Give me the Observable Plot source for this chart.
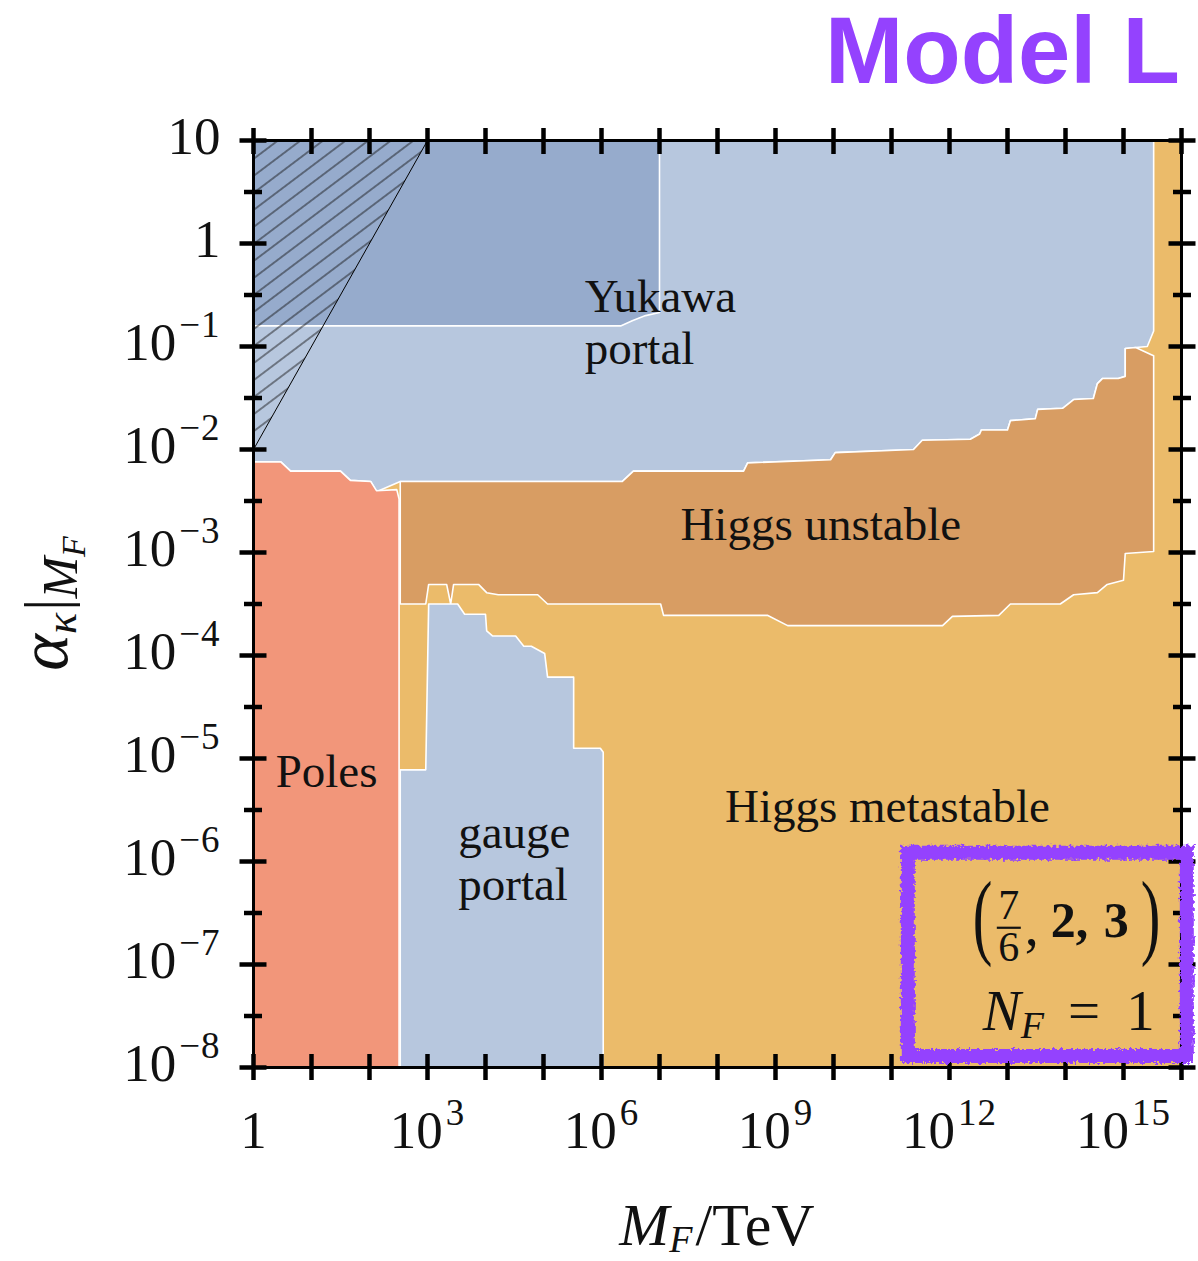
<!DOCTYPE html>
<html>
<head>
<meta charset="utf-8">
<script src="https://cdn.jsdelivr.net/npm/d3@7"></script>
<script src="https://cdn.jsdelivr.net/npm/@observablehq/plot@0.6"></script>
<style>
  html, body { margin: 0; padding: 0; background: #fff; }
  #chart svg { display: block; }
</style>
</head>
<body>
<div id="chart"></div>
<script>
// Region outlines as [log10(M_F / TeV), log10(alpha_kappa at M_F)] vertices.
const yukawaStrong = [[0,1],[7.0,1],[7.0,-0.67],[6.76,-0.70],[6.53,-0.75],[6.33,-0.80],[0,-0.80]];
const yukawaPortal = [[0,1],[15.52,1],[15.52,-0.85],[15.41,-1.0],[15.21,-1.01],[15.03,-1.02],[15.03,-1.29],
  [14.91,-1.31],[14.64,-1.31],[14.55,-1.36],[14.48,-1.505],[14.14,-1.515],[13.95,-1.60],[13.52,-1.61],
  [13.48,-1.70],[13.05,-1.72],[13.0,-1.81],[12.55,-1.81],[12.52,-1.85],[12.36,-1.90],[11.53,-1.91],
  [11.38,-2.0],[10.03,-2.03],[9.95,-2.10],[8.52,-2.13],[8.45,-2.21],[6.55,-2.21],[6.36,-2.31],
  [2.53,-2.31],[2.12,-2.41],[2.02,-2.31],[1.67,-2.30],[1.5,-2.21],[0.64,-2.21],[0.47,-2.12],[0,-2.12]];
const poles = [[0,-8],[0,-2.12],[0.47,-2.12],[0.64,-2.21],[1.5,-2.21],[1.67,-2.30],[2.02,-2.31],
  [2.12,-2.40],[2.47,-2.39],[2.51,-2.48],[2.51,-8]];
const unstable = [[2.53,-2.31],[6.36,-2.31],[6.55,-2.21],[8.45,-2.21],[8.52,-2.13],[9.95,-2.10],[10.03,-2.03],
  [11.38,-2.0],[11.53,-1.91],[12.36,-1.90],[12.52,-1.85],[12.55,-1.81],[13.0,-1.81],[13.05,-1.72],
  [13.48,-1.70],[13.52,-1.61],[13.95,-1.60],[14.14,-1.515],[14.48,-1.505],[14.55,-1.36],[14.64,-1.31],
  [14.91,-1.31],[15.03,-1.29],[15.03,-1.02],[15.21,-1.01],[15.48,-1.08],[15.52,-1.09],[15.52,-2.99],
  [15.03,-3.01],[15.0,-3.27],[14.72,-3.31],[14.55,-3.39],[14.14,-3.41],[13.91,-3.50],[13.05,-3.50],
  [12.85,-3.61],[12.05,-3.62],[11.88,-3.71],[9.21,-3.71],[8.86,-3.61],[7.07,-3.61],[7.02,-3.50],
  [5.07,-3.50],[4.90,-3.41],[4.22,-3.41],[4.02,-3.39],[3.88,-3.31],[3.45,-3.31],[3.40,-3.50],
  [3.33,-3.31],[3.02,-3.31],[2.97,-3.50],[2.53,-3.50]];
const gaugePortal = [[2.53,-8],[2.53,-5.11],[2.97,-5.11],[3.02,-3.50],[3.52,-3.50],[3.64,-3.60],[4.0,-3.60],
  [4.02,-3.76],[4.12,-3.81],[4.52,-3.81],[4.66,-3.91],[4.79,-3.91],[5.02,-3.98],[5.07,-4.21],[5.52,-4.21],
  [5.52,-4.90],[5.98,-4.90],[6.03,-4.94],[6.03,-8]];
const excluded = [[0,1],[3,1],[0,-2]];

const regionLabels = [
  {text: "Yukawa\nportal", lx: 5.71, ly: -0.757, anchor: "start"},
  {text: "gauge\nportal", lx: 3.53, ly: -5.961, anchor: "start"},
  {text: "Higgs unstable", lx: 9.78, ly: -2.718, anchor: "middle"},
  {text: "Higgs metastable", lx: 10.93, ly: -5.456, anchor: "middle"},
  {text: "Poles", lx: 1.26, ly: -5.117, anchor: "middle"}
];

// Axis ticks (exponents)
const xTickExp = d3.range(0, 17);
const xLabelExp = [0, 3, 6, 9, 12, 15];
const yMajorExp = d3.range(-8, 2);
const yMinorExp = d3.range(-7.5, 1, 1);

// Highlight box around the model tuple (exponents of its corners)
const tupleBox = [{x1: 11.29, x2: 16.10, y1: -7.893, y2: -5.92}];

const COLORS = {
  metastable: "#EBBB6A",
  unstable: "#D89D63",
  poles: "#F2967A",
  portal: "#B7C7DE",
  portalStrong: "#96ABCC",
  accent: "#9442FE"
};

const X = d => 10 ** d[0];
const Y = d => 10 ** d[1];
const region = (pts, fill) => Plot.line([...pts, pts[0]], {
  x: X, y: Y, fill, stroke: "white", strokeWidth: 1.6, strokeLinejoin: "round"
});
const pow10 = e => 10 ** e;
const expFormat = v => {
  const e = Math.round(Math.log10(v));
  return e === 0 ? "1" : e === 1 ? "10" : "10^" + e;
};
const TICK_W = 4.5;

const plot = Plot.plot({
  width: 1198,
  height: 1261,
  marginTop: 140,
  marginLeft: 253,
  marginRight: 17,
  marginBottom: 194,
  x: {type: "log", domain: [1, 1e16]},
  y: {type: "log", domain: [1e-8, 10]},
  style: {fontFamily: "'Liberation Serif', 'Times New Roman', serif", background: "white", overflow: "visible"},
  marks: [
    Plot.frame({fill: COLORS.metastable, stroke: "none"}),
    region(yukawaPortal, COLORS.portal),
    region(yukawaStrong, COLORS.portalStrong),
    region(poles, COLORS.poles),
    region(unstable, COLORS.unstable),
    region(gaugePortal, COLORS.portal),
    Plot.line([...excluded, excluded[0]], {x: X, y: Y, fill: "url(#hatch)", stroke: "black", strokeWidth: 1}),
    Plot.text(regionLabels.filter(d => d.anchor === "start"), {
      x: d => 10 ** d.lx, y: d => 10 ** d.ly, text: "text", textAnchor: "start",
      fontSize: 47, lineHeight: 1.106, fill: "#111"
    }),
    Plot.text(regionLabels.filter(d => d.anchor === "middle"), {
      x: d => 10 ** d.lx, y: d => 10 ** d.ly, text: "text", textAnchor: "middle",
      fontSize: 47, lineHeight: 1.106, fill: "#111"
    }),
    Plot.frame({stroke: "black", strokeWidth: 3}),
    Plot.axisX(xTickExp.map(pow10), {anchor: "bottom", tickSize: 26, dy: -13, fill: "none", strokeWidth: TICK_W, label: null}),
    Plot.axisX(xTickExp.map(pow10), {anchor: "top", tickSize: 26, dy: 13, fill: "none", strokeWidth: TICK_W, label: null}),
    Plot.axisY(yMajorExp.map(pow10), {anchor: "left", tickSize: 27, dx: 13.5, fill: "none", strokeWidth: TICK_W, label: null}),
    Plot.axisY(yMinorExp.map(pow10), {anchor: "left", tickSize: 18, dx: 9, fill: "none", strokeWidth: TICK_W, label: null}),
    Plot.axisY(yMajorExp.map(pow10), {anchor: "right", tickSize: 27, dx: -13.5, fill: "none", strokeWidth: TICK_W, label: null}),
    Plot.axisY(yMinorExp.map(pow10), {anchor: "right", tickSize: 18, dx: -9, fill: "none", strokeWidth: TICK_W, label: null}),
    Plot.axisX(xLabelExp.map(pow10), {anchor: "bottom", tickSize: 0, tickPadding: 43, fontSize: 53, tickFormat: expFormat, label: null, fill: "#111"}),
    Plot.axisY(yMajorExp.map(pow10), {anchor: "left", tickSize: 0, tickPadding: 33, fontSize: 53, tickFormat: expFormat, label: null, dy: -3, fill: "#111"}),
    Plot.rect(tupleBox, {
      x1: d => 10 ** d.x1, x2: d => 10 ** d.x2, y1: d => 10 ** d.y1, y2: d => 10 ** d.y2,
      fill: "none", stroke: COLORS.accent, strokeWidth: 14
    })
  ]
});

document.getElementById("chart").appendChild(plot);
const svg = d3.select(plot);

// Pattern for the hatched corner and a rough brush filter for the highlight box
const defs = svg.insert("defs", ":first-child");
const pat = defs.append("pattern").attr("id", "hatch").attr("patternUnits", "userSpaceOnUse")
  .attr("width", 20).attr("height", 13.6).attr("patternTransform", "rotate(-37)");
pat.append("line").attr("x1", -1).attr("x2", 21).attr("y1", 6.8).attr("y2", 6.8)
  .attr("stroke", "#111").attr("stroke-width", 0.9);
const rough = defs.append("filter").attr("id", "rough")
  .attr("x", "-5%").attr("y", "-5%").attr("width", "110%").attr("height", "110%");
rough.append("feTurbulence").attr("type", "fractalNoise").attr("baseFrequency", 0.3)
  .attr("numOctaves", 2).attr("seed", 3).attr("result", "noise");
rough.append("feDisplacementMap").attr("in", "SourceGraphic").attr("in2", "noise")
  .attr("scale", 7).attr("xChannelSelector", "R").attr("yChannelSelector", "G");
svg.selectAll('g[aria-label="rect"]').attr("filter", "url(#rough)");

// Turn "10^e" tick labels into base + superscript
svg.selectAll('g[aria-label$="tick label"] text').each(function () {
  const m = /^10\^(.+)$/.exec(this.textContent);
  if (!m) return;
  const el = d3.select(this);
  el.text(null);
  el.append("tspan").text("10");
  el.append("tspan").attr("dy", -23).attr("dx", 3).attr("font-size", 37)
    .attr("letter-spacing", 1).text(m[1].replace("-", "\u2212"));
});

const sx = plot.scale("x"), sy = plot.scale("y");
const SERIF = "'Liberation Serif', 'Times New Roman', serif";

function rich(parent, attrs, parts) {
  const t = parent.append("text").attr("font-family", SERIF).attr("fill", "#111");
  for (const [k, v] of Object.entries(attrs)) t.attr(k, v);
  for (const p of parts) {
    const s = t.append("tspan").text(p.text);
    if (p.italic) s.attr("font-style", "italic");
    if (p.bold) s.attr("font-weight", "bold");
    if (p.size) s.attr("font-size", p.size);
    if (p.dy) s.attr("dy", p.dy);
    if (p.dx) s.attr("dx", p.dx);
  }
  return t;
}

// Title
svg.append("text").attr("x", 1180).attr("y", 83).attr("text-anchor", "end")
  .attr("font-family", "'Liberation Sans', Arial, sans-serif").attr("font-weight", "bold")
  .attr("font-size", 94).attr("fill", COLORS.accent).text("Model L");

// Axis titles
const xMid = (sx.range[0] + sx.range[1]) / 2;
rich(svg, {x: xMid, y: 1245, "text-anchor": "middle", "font-size": 60}, [
  {text: "M", italic: true},
  {text: "F", italic: true, size: 38, dy: 7},
  {text: "/", dy: -7, dx: 3},
  {text: "TeV"}
]);
const yMid = (sy.range[0] + sy.range[1]) / 2;
const yTitle = svg.append("g").attr("transform", `translate(67,${yMid}) rotate(-90)`);
rich(yTitle, {x: 0, y: 0, "text-anchor": "middle", "font-size": 70}, [
  {text: "α", italic: true},
  {text: "κ", italic: true, size: 44, dy: 9},
  {text: "|", size: 62, dy: -9, dx: 2},
  {text: "M", italic: true, size: 50, dy: 10},
  {text: "F", italic: true, size: 34, dy: 8}
]);

// Model tuple and flavour number inside the highlight box
const bx = sx.apply(10 ** tupleBox[0].x2), by = sy.apply(10 ** tupleBox[0].y2);
const tuple = svg.append("g").attr("transform", `translate(${bx},${by})`)
  .attr("font-family", SERIF).attr("fill", "#111").attr("text-anchor", "start");
tuple.append("text").attr("transform", "translate(-214,94) scale(0.62,1)").attr("font-size", 95).text("(");
tuple.append("text").attr("x", -178).attr("y", 66).attr("text-anchor", "middle").attr("font-size", 42).text("7");
tuple.append("line").attr("x1", -190).attr("x2", -166).attr("y1", 75).attr("y2", 75).attr("stroke", "#111").attr("stroke-width", 2.2);
tuple.append("text").attr("x", -178).attr("y", 108).attr("text-anchor", "middle").attr("font-size", 42).text("6");
tuple.append("text").attr("x", -162).attr("y", 92).attr("font-size", 56).text(",");
tuple.append("text").attr("x", -136).attr("y", 84).attr("font-size", 50).attr("font-weight", "bold").text("2,");
tuple.append("text").attr("x", -83).attr("y", 84).attr("font-size", 50).attr("font-weight", "bold").text("3");
tuple.append("text").attr("transform", "translate(-46,94) scale(0.62,1)").attr("font-size", 95).text(")");
rich(tuple, {x: -204, y: 177, "font-size": 57}, [
  {text: "N", italic: true},
  {text: "F", italic: true, size: 38, dy: 8},
  {text: "=", dy: -8, dx: 24},
  {text: "1", dx: 26}
]);
</script>
</body>
</html>
